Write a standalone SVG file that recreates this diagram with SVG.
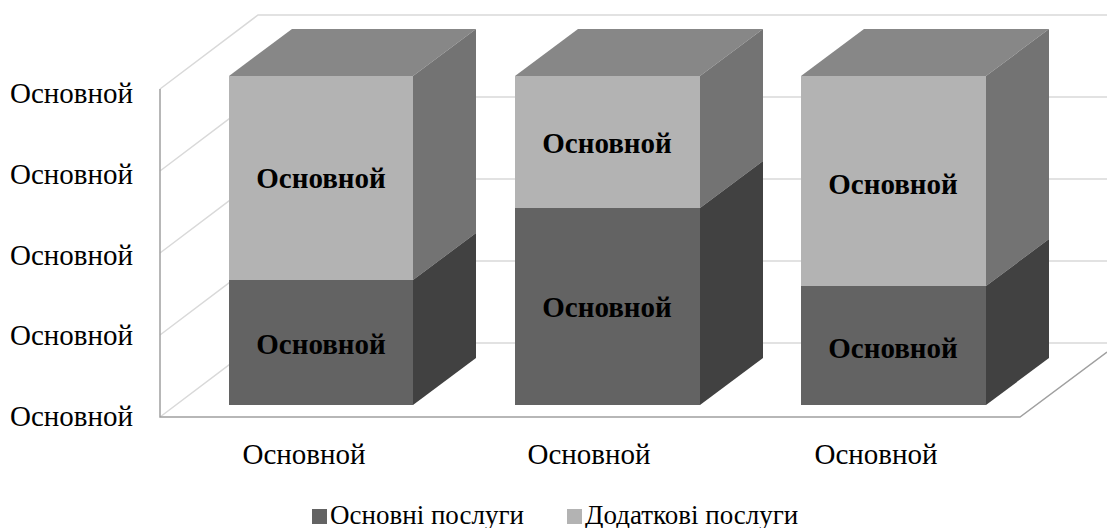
<svg xmlns="http://www.w3.org/2000/svg" width="1107" height="528" viewBox="0 0 1107 528">
<style>
.grid{stroke:#d9d9d9;stroke-width:1.5;fill:none}
.axis{stroke:#a0a0a0;stroke-width:1.5;fill:none}
.top{fill:#878787}
.lf{fill:#b3b3b3}
.ls{fill:#737373}
.df{fill:#636363}
.ds{fill:#414141}
text{font-family:'Liberation Serif','Times New Roman',serif;fill:#000}
.ax{font-size:29px}
.bl{font-size:29px;font-weight:bold;text-anchor:middle}
.cat{font-size:29px;text-anchor:middle}
.leg{font-size:27px}
</style>
<rect width="1107" height="528" fill="#fff"/>
<g id="walls">
<path class="grid" d="M160 89 L258 15 H1107"/>
<path class="grid" d="M160 171 L258 97 H1107"/>
<path class="grid" d="M160 253 L258 179 H1107"/>
<path class="grid" d="M160 335 L258 261 H1107"/>
<path class="grid" d="M160 417 L258 343 H1107"/>
<path class="axis" d="M160 89 V417 H1020 L1107 352"/>
</g>
<g id="bar1">
<polygon class="top" points="229,76 292,29 476,29 413,76"/>
<polygon class="lf" points="229,76 413,76 413,280 229,280"/>
<polygon class="ls" points="413,76 476,29 476,233 413,280"/>
<polygon class="df" points="229,280 413,280 413,405 229,405"/>
<polygon class="ds" points="413,280 476,233 476,358 413,405"/>
<text class="bl" x="321" y="188">Основной</text>
<text class="bl" x="321" y="354">Основной</text>
</g>
<g id="bar2">
<polygon class="top" points="515,76 578,29 763,29 700,76"/>
<polygon class="lf" points="515,76 700,76 700,208 515,208"/>
<polygon class="ls" points="700,76 763,29 763,161 700,208"/>
<polygon class="df" points="515,208 700,208 700,405 515,405"/>
<polygon class="ds" points="700,208 763,161 763,358 700,405"/>
<text class="bl" x="607" y="153">Основной</text>
<text class="bl" x="607" y="317">Основной</text>
</g>
<g id="bar3">
<polygon class="top" points="801,76 864,29 1049,29 986,76"/>
<polygon class="lf" points="801,76 986,76 986,286 801,286"/>
<polygon class="ls" points="986,76 1049,29 1049,239 986,286"/>
<polygon class="df" points="801,286 986,286 986,405 801,405"/>
<polygon class="ds" points="986,286 1049,239 1049,358 986,405"/>
<text class="bl" x="893" y="194">Основной</text>
<text class="bl" x="893" y="358">Основной</text>
</g>
<g id="yaxis">
<text class="ax" x="10" y="103">Основной</text>
<text class="ax" x="10" y="184">Основной</text>
<text class="ax" x="10" y="265">Основной</text>
<text class="ax" x="10" y="345">Основной</text>
<text class="ax" x="10" y="426">Основной</text>
</g>
<g id="xaxis">
<text class="cat" x="304" y="464">Основной</text>
<text class="cat" x="589" y="464">Основной</text>
<text class="cat" x="876" y="464">Основной</text>
</g>
<g id="legend">
<rect x="312" y="509" width="15" height="15" fill="#636363"/>
<text class="leg" x="330" y="524">Основні послуги</text>
<rect x="567" y="509" width="15" height="15" fill="#b3b3b3"/>
<text class="leg" x="585" y="524">Додаткові послуги</text>
</g>
</svg>
